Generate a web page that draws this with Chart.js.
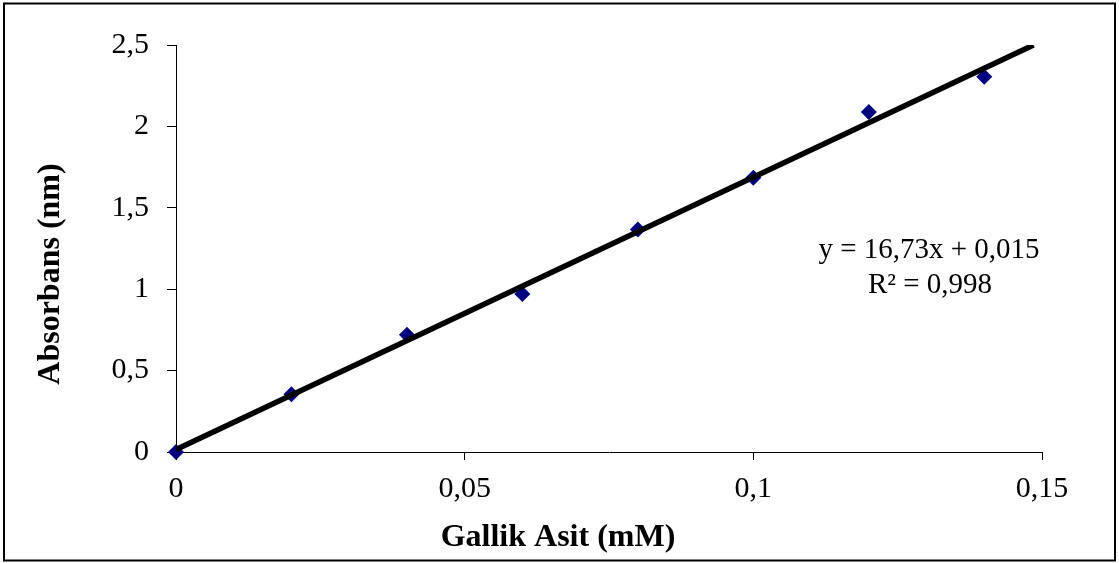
<!DOCTYPE html>
<html>
<head>
<meta charset="utf-8">
<script src="https://cdn.jsdelivr.net/npm/chart.js@4/dist/chart.umd.min.js"></script>
<style>
  body { margin: 0; background: #fff; }
  canvas { display: block; }
</style>
</head>
<body>
<canvas id="gallik-chart" width="1119" height="563"></canvas>
<script>
// Gallic acid calibration: concentration (mM) vs absorbance
const concentrations = [0, 0.02, 0.04, 0.06, 0.08, 0.1, 0.12, 0.14];
const absorbances = [0, 0.355, 0.72, 0.971, 1.367, 1.685, 2.089, 2.305];
const xTicks = [0, 0.05, 0.1, 0.15];
const yTicks = [0, 0.5, 1, 1.5, 2, 2.5];
const slope = 16.73;
const intercept = 0.015;
const equationLines = ['y = 16,73x + 0,015', 'R² = 0,998'];
const xTitle = 'Gallik Asit (mM)';
const yTitle = 'Absorbans (nm)';

const serif = '"Liberation Serif", "Times New Roman", serif';
const comma = v => String(+v.toFixed(2)).replace('.', ',');

const points = concentrations.map((x, i) => ({ x: x, y: absorbances[i] }));
// trend line runs from 0 until it leaves the top of the plot
const yMax = yTicks[yTicks.length - 1];
const trend = [
    { x: 0, y: intercept },
    { x: (yMax - intercept) / slope, y: yMax }
];

const decorations = {
    id: 'decorations',
    beforeDraw(chart) {
        const ctx = chart.ctx;
        ctx.save();
        ctx.fillStyle = '#fff';
        ctx.fillRect(0, 0, chart.width, chart.height);
        ctx.strokeStyle = '#000';
        ctx.lineWidth = 2;
        ctx.strokeRect(4, 3.5, 1111, 557);
        ctx.restore();
    },
    afterDraw(chart) {
        const ctx = chart.ctx;
        const a = chart.chartArea;
        ctx.save();
        ctx.fillStyle = '#000';
        ctx.textAlign = 'center';
        ctx.textBaseline = 'middle';
        ctx.font = '29px ' + serif;
        ctx.fillText(equationLines[0], a.right - 113, 250);
        ctx.fillText(equationLines[1], a.right - 112, 285);

        ctx.font = 'bold 32px ' + serif;
        ctx.fillText(xTitle, 558, 538);
        ctx.translate(51, 274);
        ctx.rotate(-Math.PI / 2);
        ctx.fillText(yTitle, 0, 0);
        ctx.restore();
    }
};

new Chart(document.getElementById('gallik-chart'), {
    type: 'scatter',
    data: {
        datasets: [{
            type: 'line',
            label: 'Trend',
            data: trend,
            borderColor: '#000',
            borderWidth: 5.5,
            pointRadius: 0,
            fill: false
        }, {
            label: 'Absorbans',
            data: points,
            clip: false,
            pointStyle: 'rectRot',
            pointRadius: 8,
            pointBackgroundColor: '#000080',
            pointBorderColor: '#000080',
            pointBorderWidth: 0
        }]
    },
    options: {
        responsive: false,
        animation: false,
        layout: { padding: { left: 0, right: 77, top: 45, bottom: 0 } },
        plugins: {
            legend: { display: false },
            tooltip: { enabled: false }
        },
        scales: {
            x: {
                type: 'linear',
                min: 0,
                max: 0.15,
                afterBuildTicks: s => { s.ticks = xTicks.map(v => ({ value: v })); },
                afterFit: s => { s.height = 111; },
                border: { display: true, color: '#000', width: 1 },
                grid: { drawOnChartArea: false, drawTicks: true, tickLength: 8, color: '#000' },
                ticks: {
                    color: '#000',
                    padding: 11,
                    maxRotation: 0,
                    font: { family: serif, size: 30 },
                    callback: v => comma(v)
                }
            },
            y: {
                type: 'linear',
                min: 0,
                max: 2.5,
                afterBuildTicks: s => { s.ticks = yTicks.map(v => ({ value: v })); },
                afterFit: s => { s.width = 176; },
                border: { display: true, color: '#000', width: 1 },
                grid: { drawOnChartArea: false, drawTicks: true, tickLength: 9, color: '#000' },
                ticks: {
                    color: '#000',
                    padding: 18,
                    font: { family: serif, size: 30 },
                    callback: v => comma(v)
                }
            }
        }
    },
    plugins: [decorations]
});
</script>
</body>
</html>
